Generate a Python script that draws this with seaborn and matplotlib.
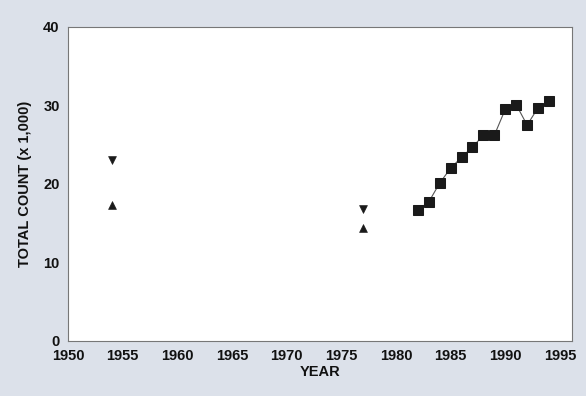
import pandas as pd
import matplotlib
matplotlib.use("Agg")
import matplotlib.pyplot as plt
import seaborn as sns

# annual counts (x 1,000)
years = [1982, 1983, 1984, 1985, 1986, 1987, 1988, 1989, 1990, 1991, 1992, 1993, 1994]
counts = [16.7, 17.7, 20.1, 22.0, 23.4, 24.7, 26.2, 26.2, 29.5, 30.1, 27.5, 29.7, 30.6]

# earlier survey ranges: upper and lower estimates
survey_years = [1954, 1977]
survey_high = [23.1, 16.8]
survey_low = [17.3, 14.4]

df = pd.DataFrame({"year": years, "count": counts})
surv = pd.DataFrame({"year": survey_years, "high": survey_high, "low": survey_low})

sns.set_style("white")
plt.rcParams["font.family"] = ["Liberation Sans", "DejaVu Sans"]
plt.rcParams["font.weight"] = "bold"
plt.rcParams["text.color"] = "#111111"
plt.rcParams["axes.labelcolor"] = "#111111"
plt.rcParams["xtick.labelcolor"] = "#111111"
plt.rcParams["ytick.labelcolor"] = "#111111"

fig = plt.figure(figsize=(5.86, 3.96), dpi=100, facecolor="#dce1ea")
ax = fig.add_axes([0.116, 0.139, 0.86, 0.793])
ax.set_facecolor("white")

sns.lineplot(data=df, x="year", y="count", ax=ax, color="#555555", linewidth=0.8,
             marker="s", markersize=6.5, markerfacecolor="#1a1a1a",
             markeredgecolor="#1a1a1a")
sns.scatterplot(data=surv, x="year", y="high", ax=ax, marker="v", s=32,
                color="#1a1a1a", edgecolor="#1a1a1a")
sns.scatterplot(data=surv, x="year", y="low", ax=ax, marker="^", s=32,
                color="#1a1a1a", edgecolor="#1a1a1a")

ax.set_xlim(1950, 1996.1)
ax.set_ylim(0, 40)
ax.set_xticks(range(1950, 1996, 5))
ax.set_yticks([0, 10, 20, 30, 40])
ax.tick_params(axis="both", direction="out", length=3, width=0.8, color="#666666",
               labelsize=10.5, pad=3)
for lab in ax.get_xticklabels() + ax.get_yticklabels():
    lab.set_fontweight("bold")
for sp in ax.spines.values():
    sp.set_visible(True)
    sp.set_color("#777777")
    sp.set_linewidth(0.8)

ax.set_xlabel("YEAR", fontsize=10.5, fontweight="bold", labelpad=1)
ax.set_ylabel("TOTAL COUNT (x 1,000)", fontsize=10.5, fontweight="bold", labelpad=8)

fig.savefig("out.png", dpi=100, facecolor=fig.get_facecolor())
